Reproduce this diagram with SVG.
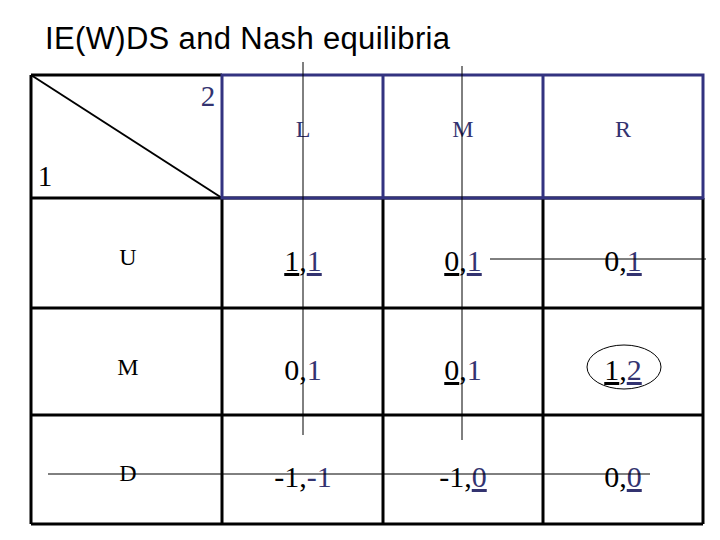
<svg xmlns="http://www.w3.org/2000/svg" width="720" height="540" viewBox="0 0 720 540">
<style>
.t{font-family:"Liberation Serif",serif;text-anchor:middle}
.p{font-size:30px;fill:#000}
.n{fill:#333370}
.u{text-decoration:underline}
.lbl{font-size:24px}
.g{stroke:#000;stroke-width:3;fill:none}
.h{stroke:#333380;stroke-width:3;fill:none}
.thin{stroke:#000;stroke-width:1}
</style>
<rect width="720" height="540" fill="#fff"/>
<text x="45" y="49" font-family="Liberation Sans,sans-serif" font-size="31" textLength="405">IE(W)DS and Nash equilibria</text>
<g id="corner">
<path class="g" d="M31,75H222M31,75V198" stroke-width="2"/>
<line x1="31" y1="75" x2="222" y2="198" stroke="#000" stroke-width="2"/>
<text class="t n" x="208" y="106" font-size="29">2</text>
<text class="t" x="45" y="186" font-size="29">1</text>
</g>
<g id="grid">
<path class="g" d="M31,198H703M31,308H703M31,415H703M31,524H703M31,198V524M222,198V524M383,198V524M543,198V524M703,198V524"/>
</g>
<g id="header">
<rect class="h" x="222" y="75" width="481" height="123"/>
<path class="h" d="M383,75V198M543,75V198"/>
<text class="t n lbl" x="303" y="137">L</text>
<text class="t n lbl" x="463" y="137">M</text>
<text class="t n lbl" x="623" y="137">R</text>
</g>
<g id="rows">
<text class="t lbl" x="128" y="265">U</text>
<text class="t lbl" x="128" y="375">M</text>
<text class="t lbl" x="128" y="481">D</text>
</g>
<g id="payoffs" class="t p">
<text x="303" y="271"><tspan class="u">1</tspan>,<tspan class="n u">1</tspan></text>
<text x="463" y="271"><tspan class="u">0</tspan>,<tspan class="n u">1</tspan></text>
<text x="623" y="271">0,<tspan class="n u">1</tspan></text>
<text x="303" y="380">0,<tspan class="n">1</tspan></text>
<text x="463" y="380"><tspan class="u">0</tspan>,<tspan class="n">1</tspan></text>
<text x="623" y="380"><tspan class="u">1</tspan>,<tspan class="n u">2</tspan></text>
<text x="303" y="487">-1,<tspan class="n">-1</tspan></text>
<text x="463" y="487">-1,<tspan class="n u">0</tspan></text>
<text x="623" y="487">0,<tspan class="n u">0</tspan></text>
</g>
<g id="connectors">
<ellipse cx="624" cy="367" rx="37" ry="22" fill="none" stroke="#000" stroke-width="1"/>
<line class="thin" x1="303" y1="62" x2="303" y2="435"/>
<line class="thin" x1="462" y1="66" x2="462" y2="440"/>
<line class="thin" x1="490" y1="259" x2="706" y2="259"/>
<line class="thin" x1="48" y1="474" x2="650" y2="474"/>
</g>
</svg>
